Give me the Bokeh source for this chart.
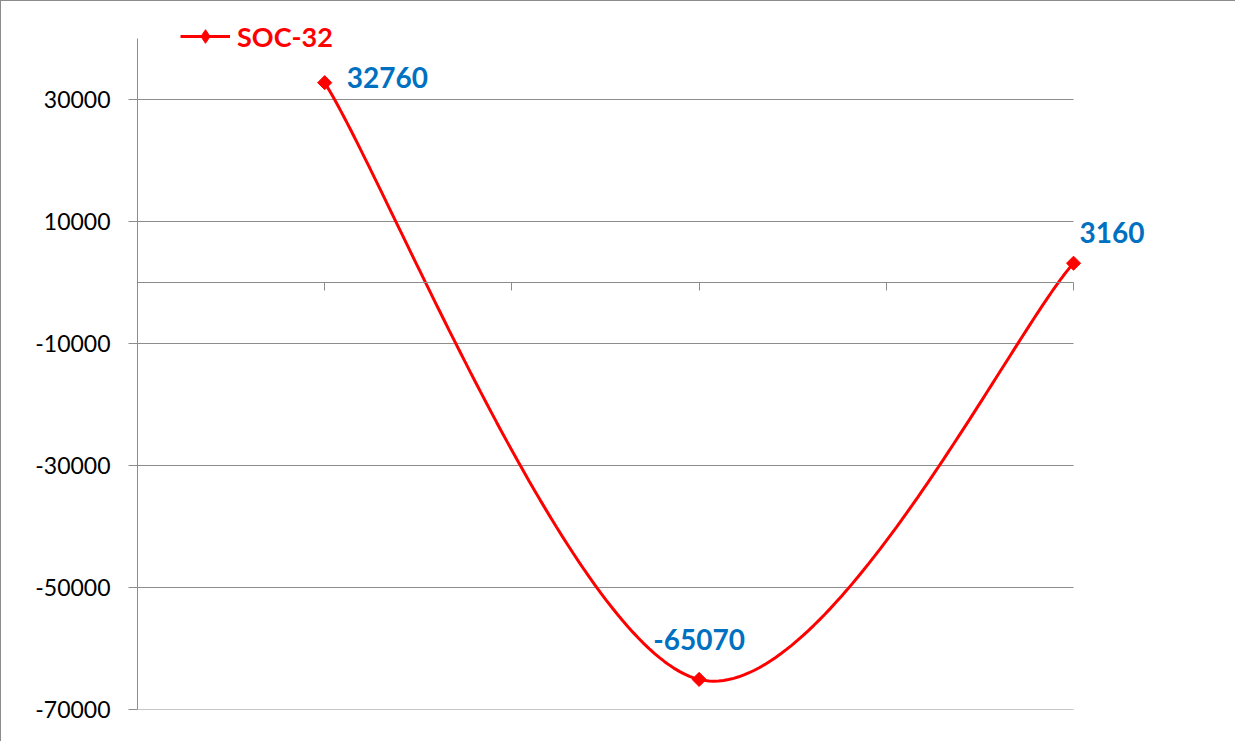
import numpy as np
from bokeh.plotting import figure
from bokeh.models import (ColumnDataSource, LabelSet, FixedTicker, Legend, LegendItem,
                          Range1d)
from bokeh.core.properties import value
from bokeh.embed import file_html
from bokeh.resources import INLINE

# ---- data ----
series_name = "SOC-32"
x_vals = [1, 3, 5]
y_vals = [32760, -65070, 3160]
y_ticks = [-70000, -50000, -30000, -10000, 10000, 30000]
x_ticks = [0, 1, 2, 3, 4, 5]
label_dx = [22, 0, 6]
label_dy = [-5, 29, 20]
label_align = ["left", "center", "left"]

# ---- smooth curve (Excel-like cardinal Bezier) ----
P = np.column_stack([x_vals, y_vals]).astype(float)
n = len(P)
curve = []
for i in range(n - 1):
    p0 = P[i - 1] if i > 0 else P[i]
    p1 = P[i]
    p2 = P[i + 1]
    p3 = P[i + 2] if i + 2 < n else P[i + 1]
    b1 = p1 + (p2 - p0) / 6.0
    b2 = p2 - (p3 - p1) / 6.0
    t = np.linspace(0, 1, 80)[:, None]
    seg = (1 - t) ** 3 * p1 + 3 * (1 - t) ** 2 * t * b1 + 3 * (1 - t) * t ** 2 * b2 + t ** 3 * p2
    curve.append(seg if i == 0 else seg[1:])
curve = np.vstack(curve)

FONT = "Lato"
GRID = "#8C8C8C"
X_AXIS_MIN, X_AXIS_MAX = 0, 5
Y_AXIS_MIN, Y_AXIS_MAX = -70000, 40000
Y_VIEW_TOP = 44590   # extra room above the axis for the legend
X_VIEW_RIGHT = 5.817  # extra room right of the axis for the last label

p = figure(width=1235, height=741, output_backend="svg", toolbar_location=None,
           x_range=Range1d(X_AXIS_MIN, X_VIEW_RIGHT), y_range=Range1d(Y_AXIS_MIN, Y_VIEW_TOP),
           min_border_left=136, min_border_right=10, min_border_top=9, min_border_bottom=33)
p.styles = {"border-left": "1px solid #8C8C8C", "border-top": "1px solid #8C8C8C"}
p.outline_line_color = None
p.background_fill_color = "white"
p.border_fill_color = "white"
p.grid.visible = False

# horizontal gridlines limited to the plot area (drawn from the tick list)
p.segment(x0=[X_AXIS_MIN] * len(y_ticks), x1=[X_AXIS_MAX] * len(y_ticks),
          y0=y_ticks, y1=y_ticks, line_color=GRID, line_width=1)

# axes
p.xaxis.fixed_location = 0
p.xaxis.bounds = (X_AXIS_MIN, X_AXIS_MAX)
p.xaxis.ticker = FixedTicker(ticks=x_ticks)
p.xaxis.major_label_text_color = None
p.xaxis.major_tick_in = 0
p.xaxis.major_tick_out = 8
p.xaxis.minor_tick_line_color = None
p.xaxis.axis_line_color = GRID
p.xaxis.major_tick_line_color = GRID

p.yaxis.bounds = (Y_AXIS_MIN, Y_AXIS_MAX)
p.yaxis.ticker = FixedTicker(ticks=y_ticks)
p.yaxis.major_label_overrides = {v: str(v) for v in y_ticks}
p.yaxis.major_tick_in = 0
p.yaxis.major_tick_out = 9
p.yaxis.minor_tick_line_color = None
p.yaxis.axis_line_color = GRID
p.yaxis.major_tick_line_color = GRID
p.yaxis.major_label_standoff = 18
p.yaxis.major_label_text_font = FONT
p.yaxis.major_label_text_font_size = "23px"
p.yaxis.major_label_text_color = "black"

# series
line_r = p.line(curve[:, 0], curve[:, 1], line_color="#FF0000", line_width=3)
src = ColumnDataSource(dict(x=x_vals, y=y_vals,
                            txt=[str(v) for v in y_vals],
                            dx=label_dx, dy=label_dy, al=label_align))
mark_r = p.scatter("x", "y", source=src, marker="square", angle=np.pi / 4, size=10,
                   fill_color="#FF0000", line_color="#FF0000")
# legend-only diamond glyph (not drawn in the plot: NaN position)
legend_mark = p.scatter(x=[np.nan], y=[np.nan], marker="diamond", size=14,
                        fill_color="#FF0000", line_color="#FF0000")

labels = LabelSet(x="x", y="y", text="txt", source=src, x_offset="dx", y_offset="dy",
                  text_align="al", text_baseline="alphabetic",
                  text_font=value(FONT), text_font_style="bold",
                  text_font_size="28px", text_color="#0070C0")
p.add_layout(labels)

legend = Legend(items=[LegendItem(label=series_name, renderers=[line_r, legend_mark])],
                location=(43, 656), orientation="horizontal",
                glyph_width=50, glyph_height=34, label_height=34, label_standoff=7,
                padding=0, margin=0, spacing=0,
                border_line_color=None, background_fill_alpha=0,
                label_text_font=FONT, label_text_font_style="bold",
                label_text_font_size="27px", label_text_color="#FF0000")
p.add_layout(legend)

open("out.html", "w").write(file_html(p, INLINE))
